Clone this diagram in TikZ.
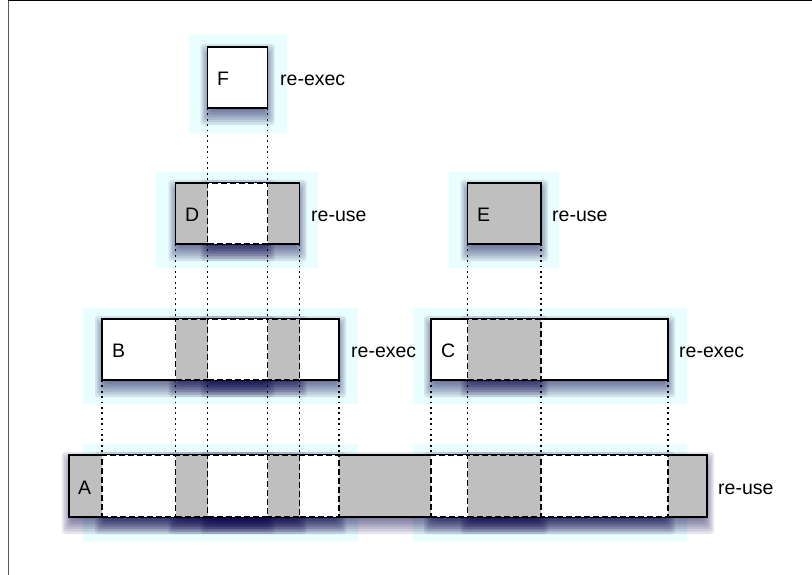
\documentclass[tikz,border=0pt]{standalone}
\usepackage{fontspec}
\setmainfont{Liberation Sans}
\definecolor{paleCyan}{HTML}{E8FEFF}
\definecolor{reuseGray}{gray}{0.75}
\definecolor{shadowcol}{RGB}{12,4,75}

\pgfdeclarelayer{backdrop}
\pgfdeclarelayer{shade}
\pgfsetlayers{backdrop,shade,main}

% \taskbox{name}{x1}{y1}{x2}{y2}{style}: a box with a soft drop shadow
\newcommand\taskbox[6]{%
  \begin{pgfonlayer}{shade}
    \foreach \e in {10,7.5,...,-10} {%
      \fill[shadowcol, opacity=0.1, rounded corners=3pt]
        ({#2-0.7*(\e)},{#3+7-(\e)}) rectangle ({#4+0.7*(\e)},{#5+7+(\e)});
    }
  \end{pgfonlayer}
  \node[#6, minimum width={(#4-#2)*1pt}, minimum height={(#5-#3)*1pt},
        anchor=north west] (#1) at (#2,#3) {};
}

\begin{document}
\begin{tikzpicture}[x=1pt, y=-1pt,
  outerbox/.style={draw=black, line width=1.5pt, inner sep=0pt, outer sep=0pt},
  innerbox/.style={draw=black, line width=1.6pt, dash pattern=on 6pt off 3pt,
                   inner sep=0pt, outer sep=0pt},
  execfill/.style={fill=white},
  usefill/.style={fill=reuseGray},
  link/.style={line width=1.8pt, dash pattern=on 1.8pt off 3.6pt},
  lbl/.style={font=\fontsize{19.5}{23}\selectfont, inner sep=0pt, anchor=base west},
  backing/.style={fill=paleCyan}]

\useasboundingbox (0,0) rectangle (812,575);

% pale backdrops
\begin{pgfonlayer}{backdrop}
  \fill[backing] (189,35) rectangle (287,133);
  \fill[backing] (156,172) rectangle (318,268);
  \fill[backing] (449,172) rectangle (559,268);
  \fill[backing] (83,308) rectangle (358,404);
  \fill[backing] (413,308) rectangle (687,404);
  \fill[backing] (83,444) rectangle (358,541);
  \fill[backing] (413,444) rectangle (687,541);
\end{pgfonlayer}

% frame
\draw[line width=1.5pt, black!65] (8.5,0) -- (8.5,575);
\draw[line width=1.5pt] (8,0.5) -- (812,0.5);

% level F
\taskbox{F}{207.5}{47}{267.5}{108}{outerbox, execfill}

% level D / E
\taskbox{D}{175.5}{183}{299.5}{244}{outerbox, usefill}
\taskbox{DF}{207.5}{183}{267.5}{244}{innerbox, execfill}
\taskbox{E}{467.5}{183}{541}{244}{outerbox, usefill}

% level B / C
\taskbox{B}{102}{319}{339}{380}{outerbox, execfill}
\taskbox{BD}{175.5}{319}{299.5}{380}{innerbox, usefill}
\taskbox{BDF}{207.5}{319}{267.5}{380}{innerbox, execfill}
\taskbox{C}{431}{319}{668}{380}{outerbox, execfill}
\taskbox{CE}{467.5}{319}{541}{380}{innerbox, usefill}

% level A
\taskbox{A}{69}{455}{707}{517}{outerbox, usefill}
\taskbox{AB}{102}{455}{339}{517}{innerbox, execfill}
\taskbox{ABD}{175.5}{455}{299.5}{517}{innerbox, usefill}
\taskbox{ABDF}{207.5}{455}{267.5}{517}{innerbox, execfill}
\taskbox{AC}{431}{455}{668}{517}{innerbox, execfill}
\taskbox{ACE}{467.5}{455}{541}{517}{innerbox, usefill}

% dotted projections between levels
\draw[link] (F.south west) -- (DF.north west);
\draw[link] (F.south east) -- (DF.north east);

\draw[link] (D.south west) -- (BD.north west);
\draw[link] (DF.south west) -- (BDF.north west);
\draw[link] (DF.south east) -- (BDF.north east);
\draw[link] (D.south east) -- (BD.north east);
\draw[link] (E.south west) -- (CE.north west);
\draw[link] (E.south east) -- (CE.north east);

\draw[link] (B.south west) -- (AB.north west);
\draw[link] (BD.south west) -- (ABD.north west);
\draw[link] (BDF.south west) -- (ABDF.north west);
\draw[link] (BDF.south east) -- (ABDF.north east);
\draw[link] (BD.south east) -- (ABD.north east);
\draw[link] (B.south east) -- (AB.north east);
\draw[link] (C.south west) -- (AC.north west);
\draw[link] (CE.south west) -- (ACE.north west);
\draw[link] (CE.south east) -- (ACE.north east);
\draw[link] (C.south east) -- (AC.north east);

% labels
\node[lbl] (tF) at (217,86) {F};
\node[lbl] (sF) at (280,86) {re-exec};
\node[lbl] (tD) at (185,222) {D};
\node[lbl] (sD) at (311,222) {re-use};
\node[lbl] (tE) at (477,222) {E};
\node[lbl] (sE) at (552,222) {re-use};
\node[lbl] (tB) at (112,357) {B};
\node[lbl] (sB) at (351,357) {re-exec};
\node[lbl] (tC) at (441,357) {C};
\node[lbl] (sC) at (679,357) {re-exec};
\node[lbl] (tA) at (78,494) {A};
\node[lbl] (sA) at (718,494) {re-use};
\end{tikzpicture}
\end{document}
